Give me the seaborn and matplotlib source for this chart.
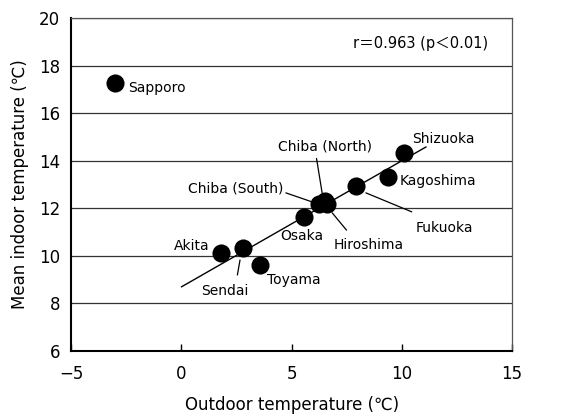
import numpy as np
import pandas as pd
import matplotlib
matplotlib.use('Agg')
import matplotlib.pyplot as plt
import seaborn as sns

# Data
cities = ['Sapporo', 'Akita', 'Sendai', 'Toyama', 'Osaka', 'Chiba (South)',
          'Chiba (North)', 'Hiroshima', 'Fukuoka', 'Kagoshima', 'Shizuoka']
outdoor = [-3.0, 1.78, 2.78, 3.58, 5.57, 6.25, 6.5, 6.6, 7.9, 9.35, 10.1]
indoor = [17.26, 10.1, 10.34, 9.63, 11.63, 12.2, 12.3, 12.2, 12.95, 13.33, 14.31]

x_ticks = [-5, 0, 5, 10, 15]
y_ticks = [6, 8, 10, 12, 14, 16, 18, 20]
fit_range = [0.0, 11.1]

df = pd.DataFrame({'City': cities, 'Outdoor': outdoor, 'Indoor': indoor})

sns.set_style('white')
plt.rcParams['font.family'] = ['DejaVu Sans', 'Noto Sans CJK JP']
plt.rcParams['text.color'] = 'black'
plt.rcParams['axes.labelcolor'] = 'black'
plt.rcParams['xtick.color'] = 'black'
plt.rcParams['ytick.color'] = 'black'

fig = plt.figure(figsize=(5.69, 4.19), dpi=100)
ax = fig.add_axes([0.125, 0.163, 0.775, 0.793])

# horizontal grid
for yv in y_ticks[1:]:
    ax.axhline(yv, color='#333333', lw=0.9, zorder=0)

# regression line (excluding Sapporo)
fit_df = df[df['City'] != 'Sapporo']
slope, icpt = np.polyfit(fit_df['Outdoor'], fit_df['Indoor'], 1)
fx = np.array(fit_range)
ax.plot(fx, slope * fx + icpt, color='black', lw=1.0, zorder=2)

sns.scatterplot(data=df, x='Outdoor', y='Indoor', color='black', s=170,
                edgecolor='black', linewidth=0, ax=ax, zorder=3)

# labels: (text, text_x, text_y, ha, va, leader line or None)
labels = [
    ('Sapporo', -2.4, 17.05, 'left', 'center', None),
    ('Shizuoka', 10.47, 14.94, 'left', 'center', None),
    ('Kagoshima', 9.9, 13.15, 'left', 'center', None),
    ('Chiba (North)', 6.53, 14.59, 'center', 'center', ((6.13, 14.1), (6.4, 12.56))),
    ('Chiba (South)', 4.62, 12.84, 'right', 'center', ((4.74, 12.65), (6.21, 12.18))),
    ('Fukuoka', 10.63, 11.18, 'left', 'center', ((8.37, 12.65), (10.45, 11.85))),
    ('Hiroshima', 6.89, 10.45, 'left', 'center', ((6.84, 11.81), (7.49, 11.08))),
    ('Osaka', 5.48, 10.83, 'center', 'center', None),
    ('Akita', 1.27, 10.42, 'right', 'center', None),
    ('Sendai', 1.99, 8.51, 'center', 'center', ((2.66, 9.82), (2.54, 9.19))),
    ('Toyama', 3.87, 9.0, 'left', 'center', None),
]
for txt, tx, ty, ha, va, line in labels:
    ax.text(tx, ty, txt, ha=ha, va=va, fontsize=10)
    if line is not None:
        (x0, y0), (x1, y1) = line
        ax.plot([x0, x1], [y0, y1], color='black', lw=0.9, zorder=2)

ax.text(13.91, 18.95, 'r＝0.963 (p＜0.01)', ha='right', va='center', fontsize=10.5)

ax.set_xlim(-5, 15)
ax.set_ylim(6, 20)
ax.set_xticks(x_ticks)
ax.set_yticks(y_ticks)
ax.set_xticklabels(['−5', '0', '5', '10', '15'])
ax.tick_params(axis='x', direction='in', length=5, width=1, pad=10, labelsize=12, bottom=True)
ax.tick_params(axis='y', length=0, pad=8, labelsize=12)
ax.set_xlabel('Outdoor temperature (℃)', fontsize=12, labelpad=10)
ax.set_ylabel('Mean indoor temperature (℃)', fontsize=12, labelpad=7)

for side in ['left', 'bottom']:
    ax.spines[side].set_color('black')
    ax.spines[side].set_linewidth(1.5)
for side in ['top', 'right']:
    ax.spines[side].set_color('#555555')
    ax.spines[side].set_linewidth(0.9)

fig.savefig('out.png', dpi=100)
